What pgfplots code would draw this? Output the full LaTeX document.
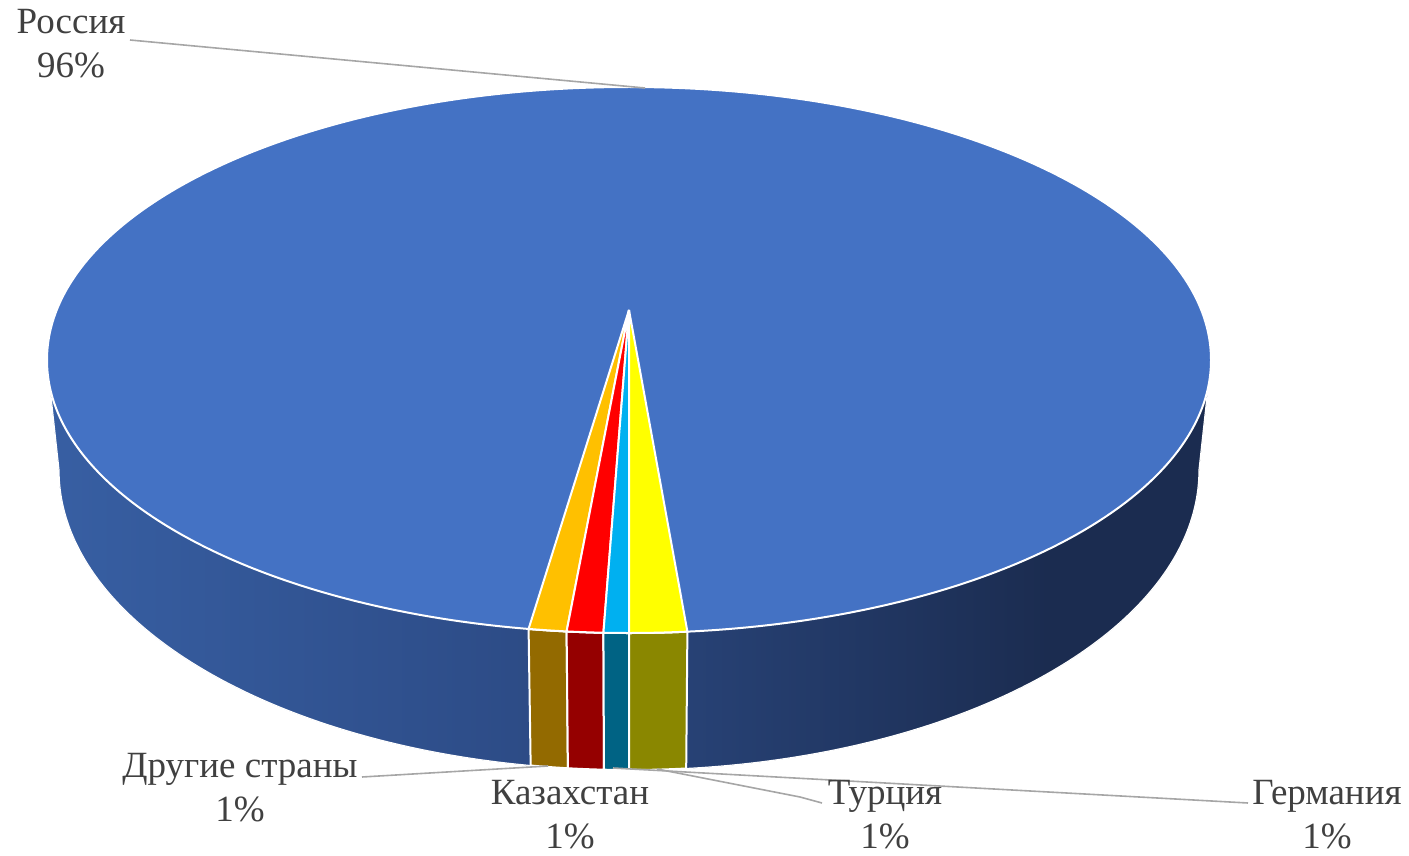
\documentclass[border=0pt]{standalone}
\usepackage{pgfplots}
\pgfplotsset{compat=1.18}
\usepackage{fontspec}
\setmainfont{Liberation Serif}
\usetikzlibrary{calc}
\definecolor{topblue}{HTML}{4472C4}
\definecolor{oTop}{HTML}{FFC000}
\definecolor{rTop}{HTML}{FF0000}
\definecolor{cTop}{HTML}{00B0F0}
\definecolor{yTop}{HTML}{FFFF00}
\definecolor{oSide}{HTML}{936A00}
\definecolor{rSide}{HTML}{950000}
\definecolor{cSide}{HTML}{006384}
\definecolor{ySide}{HTML}{8A8700}
\definecolor{sideA}{HTML}{3C67AF}
\definecolor{sideB}{HTML}{2D4C87}
\definecolor{sideC}{HTML}{1B2C50}
\definecolor{lblgray}{HTML}{404040}
\definecolor{leader}{HTML}{A6A6A6}
\pgfdeclarehorizontalshading{sideshade}{100bp}{color(0bp)=(sideA); color(25bp)=(sideA!70!sideB); color(45bp)=(sideB); color(68bp)=(sideC); color(100bp)=(sideC)}
\begin{document}
\begin{tikzpicture}
% shares (%)
\def\vRus{95.64}\def\vGer{1.6}\def\vTur{0.7}\def\vKaz{1.01}\def\vOth{1.05}
\pgfmathsetmacro\aGer{270+3.6*\vGer}
\pgfmathsetmacro\aTur{270-3.6*\vTur}
\pgfmathsetmacro\aKaz{\aTur-3.6*\vKaz}
\pgfmathsetmacro\aOth{\aKaz-3.6*\vOth}
\begin{axis}[x=0.5pt,y=0.5pt,y dir=reverse,xmin=0,xmax=1409,ymin=0,ymax=856,
  hide axis,clip=false,scale only axis]
\path (axis cs:0,0) rectangle (axis cs:1409,856);
\coordinate (T) at (axis cs:629,360);
\coordinate (B) at (axis cs:629,470);
\coordinate (P) at (axis cs:629,310);
% side of Russia
\fill[shading=sideshade] ($(T)+(180:291pt and 136.5pt)$) -- ($(B)+(180:285pt and 150pt)$)
  arc[start angle=180,end angle=360,x radius=285pt,y radius=150pt]
  -- ($(T)+(0:291pt and 136.5pt)$)
  arc[start angle=360,end angle=180,x radius=291pt,y radius=136.5pt] -- cycle;
\draw[white,line width=0.6pt] ($(T)+(180:291pt and 136.5pt)$) -- ($(B)+(180:285pt and 150pt)$)
  arc[start angle=180,end angle=360,x radius=285pt,y radius=150pt]
  -- ($(T)+(0:291pt and 136.5pt)$);
% side panels of small slices
\filldraw[fill=oSide,draw=white,line width=1pt] ($(T)+(\aOth:291pt and 136.5pt)$)
  arc[start angle=\aOth,end angle=\aKaz,x radius=291pt,y radius=136.5pt]
  -- ($(B)+(\aKaz:285pt and 150pt)$)
  arc[start angle=\aKaz,end angle=\aOth,x radius=285pt,y radius=150pt] -- cycle;
\filldraw[fill=rSide,draw=white,line width=1pt] ($(T)+(\aKaz:291pt and 136.5pt)$)
  arc[start angle=\aKaz,end angle=\aTur,x radius=291pt,y radius=136.5pt]
  -- ($(B)+(\aTur:285pt and 150pt)$)
  arc[start angle=\aTur,end angle=\aKaz,x radius=285pt,y radius=150pt] -- cycle;
\filldraw[fill=cSide,draw=white,line width=1pt] ($(T)+(\aTur:291pt and 136.5pt)$)
  arc[start angle=\aTur,end angle=270,x radius=291pt,y radius=136.5pt]
  -- ($(B)+(270:285pt and 150pt)$)
  arc[start angle=270,end angle=\aTur,x radius=285pt,y radius=150pt] -- cycle;
\filldraw[fill=ySide,draw=white,line width=1pt] ($(T)+(270:291pt and 136.5pt)$)
  arc[start angle=270,end angle=\aGer,x radius=291pt,y radius=136.5pt]
  -- ($(B)+(\aGer:285pt and 150pt)$)
  arc[start angle=\aGer,end angle=270,x radius=285pt,y radius=150pt] -- cycle;
% top of Russia
\filldraw[fill=topblue,draw=white,line width=1pt] (T) ellipse[x radius=291pt,y radius=136.5pt];
% top wedges
\filldraw[fill=oTop,draw=white,line width=1pt] (P) -- ($(T)+(\aOth:291pt and 136.5pt)$)
  arc[start angle=\aOth,end angle=\aKaz,x radius=291pt,y radius=136.5pt] -- cycle;
\filldraw[fill=rTop,draw=white,line width=1pt] (P) -- ($(T)+(\aKaz:291pt and 136.5pt)$)
  arc[start angle=\aKaz,end angle=\aTur,x radius=291pt,y radius=136.5pt] -- cycle;
\filldraw[fill=cTop,draw=white,line width=1pt] (P) -- ($(T)+(\aTur:291pt and 136.5pt)$)
  arc[start angle=\aTur,end angle=270,x radius=291pt,y radius=136.5pt] -- cycle;
\filldraw[fill=yTop,draw=white,line width=1pt] (P) -- ($(T)+(270:291pt and 136.5pt)$)
  arc[start angle=270,end angle=\aGer,x radius=291pt,y radius=136.5pt] -- cycle;
% leader lines
\draw[leader,line width=0.8pt] (axis cs:130,40) -- (axis cs:645,88);
\draw[leader,line width=0.8pt] (axis cs:362,777) -- (axis cs:548,766);
\draw[leader,line width=0.8pt] (axis cs:822,803) -- (axis cs:800,797) -- (axis cs:657,769);
\draw[leader,line width=0.8pt] (axis cs:1248,803) -- (axis cs:613,768);
% labels
\tikzset{lbl/.style={align=center,text=lblgray,font=\fontsize{18.5}{22}\selectfont,inner sep=0pt}}
\node[lbl] at (axis cs:71,44) {Россия\\96\%};
\node[lbl] at (axis cs:240,788) {Другие страны\\1\%};
\node[lbl] at (axis cs:570,815) {Казахстан\\1\%};
\node[lbl] at (axis cs:885,815) {Турция\\1\%};
\node[lbl] at (axis cs:1327,815) {Германия\\1\%};
\end{axis}
\end{tikzpicture}
\end{document}
